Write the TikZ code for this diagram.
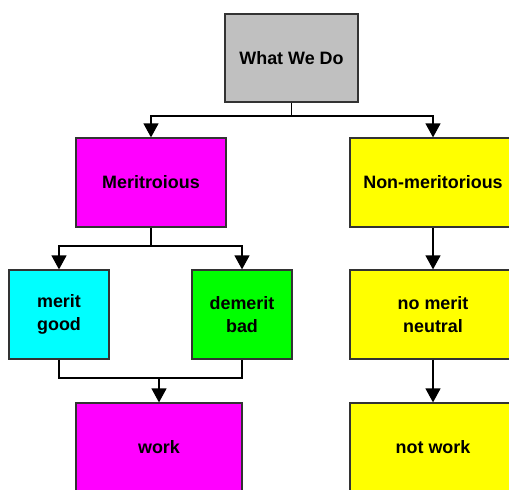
\documentclass[tikz,border=0pt]{standalone}
\usepackage{fontspec}
\setmainfont{Liberation Sans}
\usetikzlibrary{arrows.meta}
\definecolor{WDGray}{HTML}{C0C0C0}
\definecolor{WDMagenta}{HTML}{FF00FF}
\definecolor{WDYellow}{HTML}{FFFF00}
\definecolor{WDCyan}{HTML}{00FFFF}
\definecolor{WDGreen}{HTML}{00FF00}
\definecolor{WDLine}{HTML}{333333}
\tikzset{
  wdbox/.style={draw=WDLine,line width=0.025cm,align=center,inner sep=0pt,
    minimum height=1.78cm,font=\fontsize{10.2}{13}\selectfont\bfseries},
  wdlink/.style={draw=black,line width=0.025cm},
  wdarrow/.style={wdlink,-{Triangle[length=0.28cm,width=0.30cm]}}
}

\begin{document}
\begin{tikzpicture}[x=0.02cm,y=-0.02cm]
\useasboundingbox (0,0) rectangle (509,489);
\clip (0,0) rectangle (509,489);
% boxes
\node[wdbox,fill=WDGray,minimum width=2.66cm,minimum height=1.76cm] (todo) at (291.5,58) {What We Do};
\node[wdbox,fill=WDMagenta,minimum width=3.00cm] (merit) at (151,182.5) {Meritroious};
\node[wdbox,fill=WDYellow,minimum width=3.32cm] (nonmerit) at (433,182.5) {Non-meritorious};
\node[wdbox,fill=WDCyan,minimum width=2.00cm] (good) at (59,314.5) {merit\\good};
\node[wdbox,fill=WDGreen,minimum width=2.00cm] (bad) at (242,314.5) {demerit\\bad};
\node[wdbox,fill=WDYellow,minimum width=3.32cm] (neutral) at (433,314.5) {no merit\\neutral};
\node[wdbox,fill=WDMagenta,minimum width=3.32cm] (work) at (159,447.5) {work};
\node[wdbox,fill=WDYellow,minimum width=3.32cm] (notwork) at (433,447.5) {not work};
% junctions
\coordinate (hubtop) at (291.5,116);
\coordinate (hubmerit) at (151,246);
\coordinate (hubwork) at (159,378);
% connectors
\draw[wdlink] (todo) -- (hubtop);
\draw[wdarrow] (hubtop) -| (merit);
\draw[wdarrow] (hubtop) -| (nonmerit);
\draw[wdlink] (merit) -- (hubmerit);
\draw[wdarrow] (hubmerit) -| (good);
\draw[wdarrow] (hubmerit) -| (bad);
\draw[wdlink] (good) |- (hubwork) -| (bad);
\draw[wdarrow] (hubwork) -- (work);
\draw[wdarrow] (nonmerit) -- (neutral);
\draw[wdarrow] (neutral) -- (notwork);
\end{tikzpicture}
\end{document}
